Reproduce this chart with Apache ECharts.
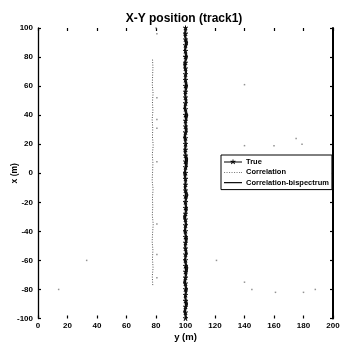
<!DOCTYPE html>
<html>
<head>
<meta charset="utf-8">
<script src="https://cdn.jsdelivr.net/npm/echarts@6/dist/echarts.min.js"></script>
<style>
html,body{margin:0;padding:0;background:#fff;}
#chart{width:340px;height:345px;}
</style>
</head>
<body>
<div id="chart"></div>
<script>
// True track: constant y = 100 m, x sampled along the track
const trueY = 100;
const trueX = [-100,-96,-92,-88,-84,-80,-76,-72,-68,-64,-60,-56,-52,-48,-44,-40,-36,-32,-28,-24,-20,-16,-12,-8,-4,0,4,8,12,16,20,24,28,32,36,40,44,48,52,56,60,64,68,72,76,80,84,88,92,96,100];

// Correlation estimate
const corrX = [-77,-71,-65,-59,-53,-47,-41,-35,-29,-23,-17,-11,-5,1,7,13,19,25,31,37,43,49,55,61,67,73,79];
const corrY = [77.8,77.5,78.0,77.6,77.9,77.4,77.7,78.1,77.5,77.8,77.6,78.0,77.4,77.7,77.9,77.5,78.1,77.6,77.8,77.4,77.9,77.6,78.0,77.5,77.7,77.9,77.6];

// Correlation-bispectrum estimate
const bispX = [-100,-95,-90,-85,-80,-75,-70,-65,-60,-55,-50,-45,-40,-35,-30,-25,-20,-15,-10,-5,0,5,10,15,20,25,30,35,40,45,50,55,60,65,70,75,80,85,90,95,100];
const bispY = [100.6,99.2,101.1,99.6,100.9,99.1,100.4,101.2,99.4,100.8,99.7,101.0,99.3,100.5,99.0,100.9,99.8,101.3,99.5,100.2,99.1,100.7,101.1,99.4,100.3,99.2,100.8,99.9,101.2,99.3,100.6,99.5,101.0,99.8,100.4,99.1,100.9,99.6,101.1,99.4,100.3];

// Isolated estimates away from the tracks
const outY = [33,14,80.6,80.6,80.6,80.6,80.6,80.6,80.6,80.6,121,140,145,161,180,188,140,179,140,80,160,175];
const outX = [-60,-80,-56,-72,31,8,-35,96,52,37,-60,-75,-80,-82,-82,-80,19,20,61,100,19,24];

const axisFont = {fontFamily:'Liberation Sans', fontWeight:'bold', fontSize:8, color:'#000'};
const tick = {show:true, inside:true, length:3, lineStyle:{color:'#000', width:1.2}};

// legend glyphs in an 18x7 box (corner specks fix the box size)
const box = ' M0,0 L0.01,0 L0,0.01 Z M18,7 L17.99,7 L18,6.99 Z';
const iconTrue = 'path://M0,3 L18,3 L18,4 L0,4 Z M8.5,1 L9.5,1 L9.5,2.8 L11.2,2 L11.5,2.9 L9.9,3.5 L11,5.2 L10.2,5.7 L9,4.1 L7.8,5.7 L7,5.2 L8.1,3.5 L6.5,2.9 L6.8,2 L8.5,2.8 Z' + box;
const iconCorr = 'path://M0,3.1 L1.1,3.1 L1.1,3.9 L0,3.9 Z M2.5,3.1 L3.6,3.1 L3.6,3.9 L2.5,3.9 Z M5,3.1 L6.1,3.1 L6.1,3.9 L5,3.9 Z M7.5,3.1 L8.6,3.1 L8.6,3.9 L7.5,3.9 Z M10,3.1 L11.1,3.1 L11.1,3.9 L10,3.9 Z M12.5,3.1 L13.6,3.1 L13.6,3.9 L12.5,3.9 Z M15,3.1 L16.1,3.1 L16.1,3.9 L15,3.9 Z M17,3.1 L18,3.1 L18,3.9 L17,3.9 Z' + box;
const iconBisp = 'path://M0,2.8 L18,2.8 L18,4.2 L0,4.2 Z' + box;

const chart = echarts.init(document.getElementById('chart'), null, {renderer:'canvas'});
chart.setOption({
  backgroundColor:'#fff',
  animation:false,
  title:{
    text:'X-Y position (track1)',
    left:179, top:8, textAlign:'center',
    textStyle:{fontFamily:'Liberation Sans', fontWeight:'bold', fontSize:12, color:'#000'}
  },
  legend:{
    data:[
      {name:'True', icon:iconTrue, itemStyle:{color:'#000'}},
      {name:'Correlation', icon:iconCorr, itemStyle:{color:'#555'}},
      {name:'Correlation-bispectrum', icon:iconBisp, itemStyle:{color:'#111'}}
    ],
    orient:'vertical',
    left:221, top:155,
    itemWidth:18, itemHeight:7, itemGap:2.3,
    padding:[3,3,3,3],
    backgroundColor:'#fff', borderColor:'#000', borderWidth:1, borderRadius:0,
    textStyle:{fontFamily:'Liberation Sans', fontWeight:'bold', fontSize:7.5, color:'#000', padding:[0,0,0,-1]}
  },
  grid:{left:38, right:7, top:28, bottom:26.5, containLabel:false, outerBoundsMode:'none'},
  xAxis:[
    {type:'value', min:0, max:200, interval:20, position:'bottom',
     name:'y (m)', nameLocation:'middle', nameGap:14, nameMoveOverlap:false,
     nameTextStyle:{fontFamily:'Liberation Sans', fontWeight:'bold', fontSize:9.5, color:'#000'},
     axisLine:{show:false, onZero:false}, axisTick:tick,
     axisLabel:Object.assign({margin:3}, axisFont), splitLine:{show:false}},
    {type:'value', min:0, max:200, interval:20, position:'top',
     axisLine:{show:false, onZero:false}, axisTick:tick,
     axisLabel:{show:false}, splitLine:{show:false}}
  ],
  yAxis:[
    {type:'value', min:-100, max:100, interval:20, position:'left',
     name:'x (m)', nameLocation:'middle', nameGap:19, nameRotate:90, nameMoveOverlap:false,
     nameTextStyle:{fontFamily:'Liberation Sans', fontWeight:'bold', fontSize:8.5, color:'#000'},
     axisLine:{show:true, onZero:false, lineStyle:{color:'#000', width:1.3}},
     axisTick:tick,
     axisLabel:Object.assign({margin:5}, axisFont), splitLine:{show:false}},
    {type:'value', min:-100, max:100, interval:20, position:'right',
     axisLine:{show:true, onZero:false, lineStyle:{color:'#000', width:2}},
     axisTick:tick,
     axisLabel:{show:false}, splitLine:{show:false}}
  ],
  series:[
    {name:'True', type:'line', xAxisIndex:0, yAxisIndex:0,
     data:trueX.map(x=>[trueY, x]),
     lineStyle:{color:'#000', width:1.5}, itemStyle:{color:'#000'},
     symbol:'path://M4,0 L6,0 L6,3.5 L9.5,2 L10,4 L6.6,5 L9,8.5 L7.3,9.6 L5,6.3 L2.7,9.6 L1,8.5 L3.4,5 L0,4 L0.5,2 L4,3.5 Z',
     symbolSize:5, showSymbol:true, z:3},
    {name:'Correlation', type:'line', xAxisIndex:0, yAxisIndex:0,
     data:corrX.map((x,i)=>[corrY[i], x]),
     lineStyle:{color:'#555', width:1, type:[1,1.5]}, itemStyle:{color:'#555'},
     symbol:'none', z:2},
    {name:'Correlation-bispectrum', type:'line', xAxisIndex:0, yAxisIndex:0,
     data:bispX.map((x,i)=>[bispY[i], x]),
     lineStyle:{color:'#111', width:2}, itemStyle:{color:'#111'},
     symbol:'none', z:4},
    {name:'Estimates', type:'scatter', xAxisIndex:0, yAxisIndex:0,
     data:outY.map((y,i)=>[y, outX[i]]),
     symbol:'rect', symbolSize:[1.5,1.5], itemStyle:{color:'#777'}, z:1}
  ]
});
</script>
</body>
</html>
